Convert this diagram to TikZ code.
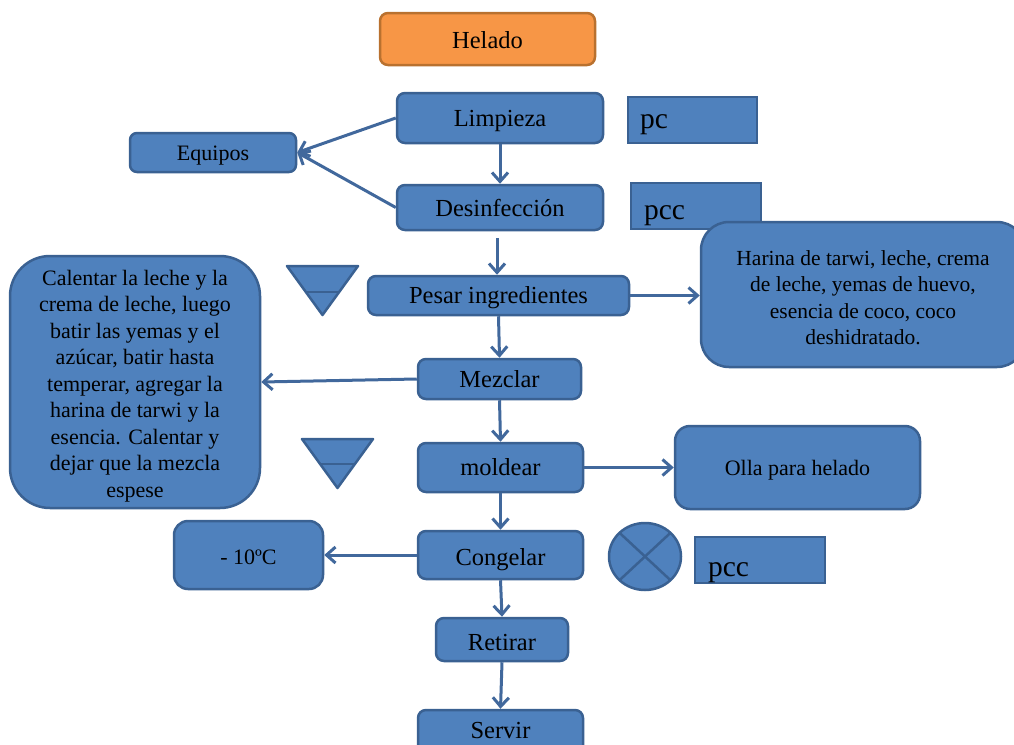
\documentclass[tikz,border=0pt]{standalone}
\usepackage{fontspec}
\setmainfont{Liberation Serif}
\usetikzlibrary{arrows.meta}
\definecolor{bfill}{HTML}{4F81BD}
\definecolor{bord}{HTML}{3A6192}
\definecolor{acol}{HTML}{41689C}
\definecolor{ofill}{HTML}{F79646}
\definecolor{obord}{HTML}{B9712F}
\tikzset{
  box/.style={draw=bord, fill=bfill, line width=2.5pt, rounded corners=8pt, inner sep=0pt,
    font=\fontsize{24.5}{28}\selectfont, text=black},
  one/.style={text height=#1, text depth=0pt},
  one/.default=16pt,
  sqbox/.style={draw=bord, fill=bfill, line width=2.5pt, inner sep=0pt, inner xsep=12pt,
    align=left, font=\fontsize{29.5}{32}\selectfont, text=black, text depth=0pt},
  arr/.style={draw=acol, line width=3pt, -{Straight Barb[length=9pt,width=16pt,line width=3pt]}},
  shp/.style={draw=bord, fill=bfill, line width=2.5pt, line join=round},
}
\begin{document}
\begin{tikzpicture}[x=1pt,y=-1pt]
\useasboundingbox (0,0) rectangle (1014,744);

% title
\node[box, one=18.5pt, draw=obord, fill=ofill, minimum width=215pt, minimum height=52pt] (helado) at (487.5,39) {Helado};

% main column
\node[box, one=16.5pt, minimum width=206pt, minimum height=50pt] (limp) at (500,118) {Limpieza};
\node[box, one=18pt, minimum width=206pt, minimum height=45pt] (desinf) at (500,207.5) {Desinfección};
\node[box, one=16pt, minimum width=261pt, minimum height=39pt] (pesar) at (498.5,295.5) {Pesar ingredientes};
\node[box, one=16pt, minimum width=163pt, minimum height=40pt] (mezclar) at (499.5,379) {Mezclar};
\node[box, one=16.5pt, minimum width=165pt, minimum height=49pt] (moldear) at (500.5,467.5) {moldear};
\node[box, one=20pt, minimum width=165pt, minimum height=48pt] (congelar) at (500.5,555) {Congelar};
\node[box, one=21pt, minimum width=132pt, minimum height=43pt] (retirar) at (502,639.5) {Retirar};
\node[box, one=6pt, minimum width=165pt, minimum height=50pt] (servir) at (500.5,735) {Servir};

% side boxes
\node[box, one=15pt, rounded corners=7pt, minimum width=166pt, minimum height=39pt,
  font=\fontsize{22}{24}\selectfont] (equipos) at (213,152.5) {Equipos};
\node[sqbox, text height=17pt, text width=105pt, minimum height=46pt] (pc) at (692.5,120) {pc};
\node[sqbox, text height=27pt, inner xsep=13pt, text width=104pt, minimum height=46pt] (pcc1) at (696,206) {pcc};
\node[sqbox, text height=33pt, inner xsep=13pt, text width=104pt, minimum height=46pt] (pcc2) at (760,560) {pcc};

\node[box, rounded corners=28pt, minimum width=324pt, minimum height=145pt, align=center,
  font=\fontsize{21.5}{26.5}\selectfont] (harina) at (863,294.5)
  {\rule{0pt}{21pt}Harina de tarwi, leche, crema\\de leche, yemas de huevo,\\esencia de coco, coco\\deshidratado.};

\node[box, rounded corners=40pt, minimum width=250pt, minimum height=252pt, align=center,
  font=\fontsize{22}{26.5}\selectfont] (calentar) at (135,382)
  {\rule{0pt}{23pt}Calentar la leche y la\\crema de leche, luego\\batir las yemas y el\\azúcar, batir hasta\\temperar, agregar la\\harina de tarwi y la\\esencia. Calentar y\\dejar que la mezcla\\espese};

\node[box, one=15pt, rounded corners=15pt, minimum width=245pt, minimum height=83pt,
  font=\fontsize{22}{24}\selectfont] (olla) at (797.5,467.5) {Olla para helado};
\node[box, one=18pt, rounded corners=14pt, minimum width=149pt, minimum height=68pt,
  font=\fontsize{22}{24}\selectfont] (menos) at (248.5,555) {- 10ºC};

% symbols
\draw[shp] (287,266) -- (358,266) -- (322.5,315) -- cycle;
\draw[draw=bord, line width=2.5pt] (305.8,292) -- (339.2,292);
\draw[shp] (302,439) -- (373,439) -- (337.5,488) -- cycle;
\draw[draw=bord, line width=2.5pt] (320.1,464) -- (354.9,464);
\draw[shp] (645,556.5) ellipse [x radius=36, y radius=33.5];
\draw[draw=bord, line width=2.5pt] (619.5,532.8) -- (670.5,580.2);
\draw[draw=bord, line width=2.5pt] (670.5,532.8) -- (619.5,580.2);

% connectors
\draw[arr] (limp.west) -- (equipos.east);
\draw[arr] (desinf.west) -- (equipos.east);
\draw[arr] (limp.south) -- (desinf.north);
\draw[arr] ([xshift=-3pt,yshift=-7pt]desinf.south) -- ([xshift=-1.5pt]pesar.north);
\draw[arr] (pesar.east) -- (pesar.east -| harina.west);
\draw[arr] (pesar.south) -- (mezclar.north);
\draw[arr] (mezclar.west) -- (calentar.east);
\draw[arr] (mezclar.south) -- (moldear.north);
\draw[arr] (moldear.east) -- (olla.west);
\draw[arr] (moldear.south) -- (congelar.north);
\draw[arr] (congelar.west) -- (menos.east);
\draw[arr] (congelar.south) -- (retirar.north);
\draw[arr] (retirar.south) -- (servir.north);
\end{tikzpicture}
\end{document}
